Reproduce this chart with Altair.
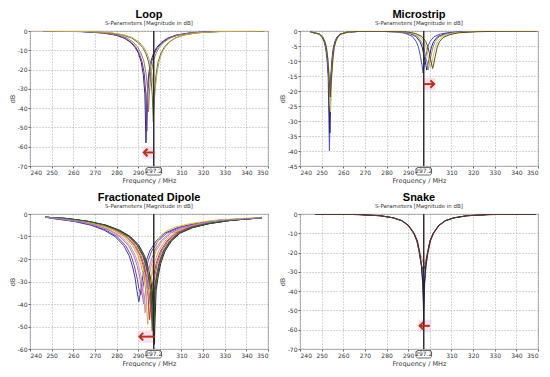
import altair as alt
import pandas as pd

W = 238
H = 135
X_TICKS = [240, 250, 260, 270, 280, 290, 300, 310, 320, 330, 340, 350]
MARKER = 297.2

# ---------------- Loop ----------------
LOOP_NAMES = ["L1", "L2", "L3", "L4", "L5"]
LOOP_COLORS = ["#2a2a7e", "#6a3a98", "#a07a58", "#56702e", "#c8a45a"]
LOOP_FREQ = [
    [246, 263.6, 273.6, 279.6, 283.6, 286.6, 288.6, 290.1, 291.4, 292.4, 293.1, 293.6, 294.1, 294.8, 295.8, 297.1, 298.6, 300.6, 303.6, 307.6, 313.6, 323.6, 348],
    [246, 264, 274, 280, 284, 287, 289, 290.5, 291.8, 292.8, 293.5, 294, 294.5, 295.2, 296.2, 297.5, 299, 301, 304, 308, 314, 324, 348],
    [246, 264.8, 274.8, 280.8, 284.8, 287.8, 289.8, 291.3, 292.6, 293.6, 294.3, 294.8, 295.3, 296, 297, 298.3, 299.8, 301.8, 304.8, 308.8, 314.8, 324.8, 348],
    [246, 267, 277, 283, 287, 290, 292, 293.5, 294.8, 295.8, 296.5, 297, 297.5, 298.2, 299.2, 300.5, 302, 304, 307, 311, 317, 327, 348],
    [246, 267.5, 277.5, 283.5, 287.5, 290.5, 292.5, 294, 295.3, 296.3, 297, 297.5, 298, 298.7, 299.7, 301, 302.5, 304.5, 307.5, 311.5, 317.5, 327.5, 348],
]
LOOP_DB = [
    [-0.05, -0.3, -1.0, -2.1, -3.7, -6.0, -8.5, -11.5, -16, -23, -33, -58, -33, -23, -16, -11.5, -8.5, -6.0, -3.7, -2.1, -1.0, -0.3, -0.05],
    [-0.05, -0.3, -1.1, -2.2, -3.8, -6.1, -8.6, -11.6, -16, -22, -32, -52, -32, -22, -16, -11.6, -8.6, -6.1, -3.8, -2.2, -1.1, -0.3, -0.05],
    [-0.05, -0.3, -1.0, -2.0, -3.6, -5.9, -8.4, -11.4, -15.5, -22, -30, -42, -30, -22, -15.5, -11.4, -8.4, -5.9, -3.6, -2.0, -1.0, -0.3, -0.05],
    [-0.05, -0.3, -1.0, -2.1, -3.7, -6.0, -8.5, -11.5, -16, -23, -33, -47, -33, -23, -16, -11.5, -8.5, -6.0, -3.7, -2.1, -1.0, -0.3, -0.05],
    [-0.05, -0.3, -0.9, -2.0, -3.5, -5.8, -8.3, -11.3, -15.5, -22, -29, -36, -29, -22, -15.5, -11.3, -8.3, -5.8, -3.5, -2.0, -0.9, -0.3, -0.05],
]
LOOP_Y = [0, -10, -20, -30, -40, -50, -60, -70]
LOOP_ARROW = [297.4, 292.6, -63]

# ---------------- Microstrip ----------------
MS_NAMES = ["M1", "M2", "M3", "M4", "M5"]
MS_COLORS = ["#4b4bd0", "#22225e", "#8a8aa8", "#d9c24a", "#5c4a1e"]
MS_FREQ = [
    [244.6, 248.6, 250.1, 251.1, 251.8, 252.4, 253.0, 253.6, 254.2, 254.8, 255.4, 256.1, 257.1, 258.6, 261.6, 266.6, 276,
     284.9, 288.9, 291.9, 293.7, 294.7, 295.7, 296.4, 296.9, 297.4, 298.1, 299.1, 300.1, 301.9, 304.9, 308.9, 316.9, 326.9, 349.5],
    [244.8, 248.8, 250.3, 251.3, 252.0, 252.6, 253.2, 253.8, 254.4, 255.0, 255.6, 256.3, 257.3, 258.8, 261.8, 266.8, 276,
     286.6, 290.6, 293.6, 295.4, 296.4, 297.4, 298.1, 298.6, 299.1, 299.8, 300.8, 301.8, 303.6, 306.6, 310.6, 318.6, 328.6, 349.5],
    [244.9, 248.9, 250.4, 251.4, 252.1, 252.7, 253.3, 253.9, 254.5, 255.1, 255.7, 256.4, 257.4, 258.9, 261.9, 266.9, 276,
     287.3, 291.3, 294.3, 296.1, 297.1, 298.1, 298.8, 299.3, 299.8, 300.5, 301.5, 302.5, 304.3, 307.3, 311.3, 319.3, 329.3, 349.5],
    [245.1, 249.1, 250.6, 251.6, 252.3, 252.9, 253.5, 254.1, 254.7, 255.3, 255.9, 256.6, 257.6, 259.1, 262.1, 267.1, 277,
     288.4, 292.4, 295.4, 297.2, 298.2, 299.2, 299.9, 300.4, 300.9, 301.6, 302.6, 303.6, 305.4, 308.4, 312.4, 320.4, 330.4, 349.5],
    [245.0, 249.0, 250.5, 251.5, 252.2, 252.8, 253.4, 254.0, 254.6, 255.2, 255.8, 256.5, 257.5, 259.0, 262.0, 267.0, 277,
     289.3, 293.3, 296.3, 298.1, 299.1, 300.1, 300.8, 301.3, 301.8, 302.5, 303.5, 304.5, 306.3, 309.3, 313.3, 321.3, 331.3, 349.5],
]
MS_DB = [
    [-0.3, -1.0, -2.0, -3.5, -5.5, -9, -15, -40, -15, -9, -5.5, -3.5, -2.0, -1.0, -0.4, -0.15, -0.1,
     -0.3, -0.8, -1.8, -3.5, -5.2, -8.5, -11.5, -14, -11.5, -8.5, -5.2, -3.5, -1.9, -1.0, -0.5, -0.2, -0.08, -0.03],
    [-0.3, -1.0, -2.0, -3.5, -5.5, -9, -15, -34, -15, -9, -5.5, -3.5, -2.0, -1.0, -0.4, -0.15, -0.1,
     -0.3, -0.8, -1.8, -3.5, -5.2, -8.5, -11, -13, -11, -8.5, -5.2, -3.5, -1.9, -1.0, -0.5, -0.2, -0.08, -0.03],
    [-0.3, -1.0, -2.0, -3.5, -5.5, -9, -15, -25, -15, -9, -5.5, -3.5, -2.0, -1.0, -0.4, -0.15, -0.1,
     -0.3, -0.8, -1.8, -3.5, -5.2, -8.5, -11, -13, -11, -8.5, -5.2, -3.5, -1.9, -1.0, -0.5, -0.2, -0.08, -0.03],
    [-0.3, -1.0, -2.0, -3.5, -5.5, -9, -15, -27, -15, -9, -5.5, -3.5, -2.0, -1.0, -0.4, -0.15, -0.1,
     -0.3, -0.8, -1.8, -3.5, -5.2, -8.3, -10.8, -12, -10.8, -8.3, -5.2, -3.5, -2.0, -1.1, -0.55, -0.22, -0.08, -0.03],
    [-0.3, -1.0, -2.0, -3.5, -5.5, -9, -15, -22, -15, -9, -5.5, -3.5, -2.0, -1.0, -0.4, -0.15, -0.1,
     -0.3, -0.8, -1.8, -3.5, -5.2, -8.4, -11, -12.5, -11, -8.4, -5.2, -3.5, -2.1, -1.2, -0.6, -0.25, -0.1, -0.03],
]
MS_Y = [0, -5, -10, -15, -20, -25, -30, -35, -40, -45]
MS_ARROW = [297.2, 302.0, -17.7]

# ---------------- Fractionated Dipole ----------------
FD_NAMES = ["D1", "D2", "D3", "D4", "D5", "D6", "D7", "D8", "D9", "D10", "D11", "D12"]
FD_COLORS = ["#3b3bb0", "#7b3fa0", "#e0909c", "#d9a060", "#c0392b", "#c04890",
             "#8b4a2b", "#6d6d2a", "#2a2a2a", "#d8c040", "#2e5e3e", "#a080c0"]
FD_FREQ = [
    [247, 250.3, 260.3, 268.3, 274.3, 279.3, 283.3, 285.8, 287.3, 288.5, 289.4, 290.3, 291.2, 292.1, 293.3, 295.3, 298.3, 302.3, 308.3, 316.3, 326.3, 347],
    [247, 251.2, 261.2, 269.2, 275.2, 280.2, 284.2, 286.7, 288.2, 289.4, 290.3, 291.2, 292.1, 293.0, 294.2, 296.2, 299.2, 303.2, 309.2, 317.2, 327.2, 347],
    [247, 253.2, 263.2, 271.2, 277.2, 282.2, 286.2, 288.7, 290.2, 291.4, 292.3, 293.2, 294.1, 295.0, 296.2, 298.2, 301.2, 305.2, 311.2, 319.2, 329.2, 347],
    [247, 254.4, 264.4, 272.4, 278.4, 283.4, 287.4, 289.9, 291.4, 292.6, 293.5, 294.4, 295.3, 296.2, 297.4, 299.4, 302.4, 306.4, 312.4, 320.4, 330.4, 347],
    [247, 255.3, 265.3, 273.3, 279.3, 284.3, 288.3, 290.8, 292.3, 293.5, 294.4, 295.3, 296.2, 297.1, 298.3, 300.3, 303.3, 307.3, 313.3, 321.3, 331.3, 347],
    [247, 255.8, 265.8, 273.8, 279.8, 284.8, 288.8, 291.3, 292.8, 294.0, 294.9, 295.8, 296.7, 297.6, 298.8, 300.8, 303.8, 307.8, 313.8, 321.8, 331.8, 347],
    [247, 256.5, 266.5, 274.5, 280.5, 285.5, 289.5, 292.0, 293.5, 294.7, 295.6, 296.5, 297.4, 298.3, 299.5, 301.5, 304.5, 308.5, 314.5, 322.5, 332.5, 347],
    [247, 257, 267, 275, 281, 286, 290, 292.5, 294, 295.2, 296.1, 297, 297.9, 298.8, 300, 302, 305, 309, 315, 323, 333, 347],
    [247, 257.4, 267.4, 275.4, 281.4, 286.4, 290.4, 292.9, 294.4, 295.6, 296.5, 297.4, 298.3, 299.2, 300.4, 302.4, 305.4, 309.4, 315.4, 323.4, 333.4, 347],
    [247, 255, 265, 273, 279, 284, 288, 290.5, 292, 293.2, 294.1, 295, 295.9, 296.8, 298, 300, 303, 307, 313, 321, 331, 347],
    [247, 256.8, 266.8, 274.8, 280.8, 285.8, 289.8, 292.3, 293.8, 295.0, 295.9, 296.8, 297.7, 298.6, 299.8, 301.8, 304.8, 308.8, 314.8, 322.8, 332.8, 347],
    [247, 252.5, 262.5, 270.5, 276.5, 281.5, 285.5, 288, 289.5, 290.7, 291.6, 292.5, 293.4, 294.3, 295.5, 297.5, 300.5, 304.5, 310.5, 318.5, 328.5, 347],
]
FD_DB = [
    [-1.4, -2.0, -3.3, -5.0, -7.2, -10, -14, -18.5, -23, -28, -34, -39, -34, -28, -22, -16.5, -12, -8.5, -6, -4.2, -2.8, -1.7],
    [-1.4, -2.0, -3.3, -5.0, -7.2, -10, -14, -18.5, -23, -28, -33, -36, -33, -28, -22, -16.5, -12, -8.5, -6, -4.2, -2.8, -1.7],
    [-1.4, -2.0, -3.3, -5.0, -7.2, -10, -14, -18.5, -23, -28, -34, -44, -34, -28, -22, -16.5, -12, -8.5, -6, -4.2, -2.8, -1.7],
    [-1.4, -2.0, -3.3, -5.0, -7.2, -10, -14, -18.5, -23, -28, -34, -49, -34, -28, -22, -16.5, -12, -8.5, -6, -4.2, -2.8, -1.7],
    [-1.4, -2.0, -3.3, -5.0, -7.2, -10, -14, -18.5, -23, -28, -34, -47, -34, -28, -22, -16.5, -12, -8.5, -6, -4.2, -2.8, -1.7],
    [-1.4, -2.0, -3.3, -5.0, -7.2, -10, -14, -18.5, -23, -28, -34, -42, -34, -28, -22, -16.5, -12, -8.5, -6, -4.2, -2.8, -1.7],
    [-1.4, -2.0, -3.3, -5.0, -7.2, -10, -14, -18.5, -23, -28, -34, -52, -34, -28, -22, -16.5, -12, -8.5, -6, -4.2, -2.8, -1.7],
    [-1.4, -2.0, -3.3, -5.0, -7.2, -10, -14, -18.5, -23, -28, -34, -55, -34, -28, -22, -16.5, -12, -8.5, -6, -4.2, -2.8, -1.7],
    [-1.4, -2.0, -3.3, -5.0, -7.2, -10, -14, -18.5, -23, -28, -34, -58, -34, -28, -22, -16.5, -12, -8.5, -6, -4.2, -2.8, -1.7],
    [-1.4, -2.0, -3.3, -5.0, -7.2, -10, -14, -18.5, -23, -28, -33, -35, -30, -22, -15, -10, -7.5, -5.8, -4.5, -3.3, -2.4, -1.5],
    [-1.4, -2.0, -3.3, -5.0, -7.2, -10, -14, -18.5, -23, -28, -34, -50, -34, -28, -22, -16.5, -12, -8.5, -6, -4.2, -2.8, -1.7],
    [-1.4, -2.0, -3.3, -5.0, -7.2, -10, -14, -18.5, -23, -28, -34, -40, -34, -28, -22, -16.5, -12, -8.5, -6, -4.2, -2.8, -1.7],
]
FD_Y = [0, -10, -20, -30, -40, -50, -60]
FD_ARROW = [297.6, 290.6, -54.5]

# ---------------- Snake ----------------
SN_NAMES = ["S5", "S3", "S1", "S2", "S4"]
SN_COLORS = ["#d88aa0", "#d6b83a", "#4b2ca0", "#1f1f5a", "#5c3d1e"]
SN_FREQ = [
    [247, 267.3, 277.3, 283.3, 287.3, 290.3, 292.8, 294.3, 295.4, 296.3, 296.9, 297.3, 297.7, 298.3, 299.2, 300.3, 301.8, 304.3, 307.3, 311.3, 317.3, 327.3, 349],
    [247, 267.3, 277.3, 283.3, 287.3, 290.3, 292.8, 294.3, 295.4, 296.3, 296.9, 297.3, 297.7, 298.3, 299.2, 300.3, 301.8, 304.3, 307.3, 311.3, 317.3, 327.3, 349],
    [247, 267.2, 277.2, 283.2, 287.2, 290.2, 292.7, 294.2, 295.3, 296.2, 296.8, 297.2, 297.6, 298.2, 299.1, 300.2, 301.7, 304.2, 307.2, 311.2, 317.2, 327.2, 349],
    [247, 267.1, 277.1, 283.1, 287.1, 290.1, 292.6, 294.1, 295.2, 296.1, 296.7, 297.1, 297.5, 298.1, 299.0, 300.1, 301.6, 304.1, 307.1, 311.1, 317.1, 327.1, 349],
    [247, 267, 277, 283, 287, 290, 292.5, 294, 295.1, 296, 296.6, 297, 297.4, 298, 298.9, 300, 301.5, 304, 307, 311, 317, 327, 349],
]
SN_DB = [
    [-0.05, -0.3, -0.9, -2.0, -3.5, -6, -10, -14, -20, -23, -25, -26, -25, -23, -20, -14, -10, -6, -3.5, -2.0, -0.9, -0.3, -0.05],
    [-0.05, -0.3, -0.9, -2.0, -3.5, -6, -10, -14, -20, -27, -35, -40, -35, -27, -20, -14, -10, -6, -3.5, -2.0, -0.9, -0.3, -0.05],
    [-0.05, -0.3, -0.9, -2.0, -3.5, -6, -10, -14, -20, -27, -36, -58, -36, -27, -20, -14, -10, -6, -3.5, -2.0, -0.9, -0.3, -0.05],
    [-0.05, -0.3, -0.9, -2.0, -3.5, -6, -10, -14, -20, -27, -36, -46, -36, -27, -20, -14, -10, -6, -3.5, -2.0, -0.9, -0.3, -0.05],
    [-0.05, -0.3, -0.9, -2.0, -3.5, -6, -10, -14, -20, -26, -28, -30, -28, -26, -20, -14, -10, -6, -3.5, -2.0, -0.9, -0.3, -0.05],
]
SN_Y = [0, -10, -20, -30, -40, -50, -60, -70]
SN_ARROW = [300.0, 295.3, -58]


def lines_df(names, colors, freqs, dbs):
    rows = []
    for k, (name, col, fs, ds) in enumerate(zip(names, colors, freqs, dbs)):
        for f, d in zip(fs, ds):
            rows.append({"s": name, "c": col, "k": k, "f": f, "db": d})
    return pd.DataFrame(rows)


def panel(title, names, colors, freqs, dbs, y_ticks, arrow):
    y_min = min(y_ticks)
    xs = alt.Scale(domain=[240, 350], nice=False, zero=False)
    ys = alt.Scale(domain=[y_min, 0], nice=False, zero=False)
    x_axis = alt.Axis(values=X_TICKS, title="Frequency / MHz",
                      labelExpr="datum.value == 300 ? '' : replace(datum.label, '\u2212', '-')")
    y_axis = alt.Axis(values=y_ticks, title="dB",
                      labelExpr="replace(datum.label, '\u2212', '-')")
    X = alt.X("f:Q", scale=xs, axis=x_axis)
    Y = alt.Y("db:Q", scale=ys, axis=y_axis)

    df = lines_df(names, colors, freqs, dbs)
    lines = alt.Chart(df).mark_line(strokeWidth=1, clip=True).encode(
        x=X, y=Y,
        color=alt.Color("c:N", scale=None, legend=None),
        detail="s:N",
    )

    marker = alt.Chart(pd.DataFrame({"f": [MARKER]})).mark_rule(
        color="#222222", strokeWidth=1.4).encode(x=X)

    a_start, a_tip, a_level = arrow
    span = (y_min * -1) / 22.0
    halo_df = pd.DataFrame({"f": [min(a_start, a_tip) - 0.6], "f2": [max(a_start, a_tip) + 0.6],
                            "db": [a_level + span], "db2": [a_level - span]})
    halo = alt.Chart(halo_df).mark_rect(color="#f6c5dc", opacity=0.55).encode(
        x=X, x2="f2:Q", y=Y, y2="db2:Q")

    shaft = alt.Chart(pd.DataFrame({"f": [a_start], "f2": [a_tip], "db": [a_level]})).mark_rule(
        color="#b0341c", strokeWidth=2).encode(x=X, x2="f2:Q", y=Y)
    head_shape = "M1,-1L0,0L1,1" if a_tip < a_start else "M-1,-1L0,0L-1,1"
    head = alt.Chart(pd.DataFrame({"f": [a_tip], "db": [a_level]})).mark_point(
        shape=head_shape, size=55, filled=False, color="#b0341c", strokeWidth=2, opacity=1).encode(x=X, y=Y)

    box = alt.Chart(pd.DataFrame({"f": [293.6], "f2": [300.8]})).mark_rect(
        fill="white", stroke="#444444", strokeWidth=0.8, cornerRadius=2).encode(
        x=X, x2="f2:Q", y=alt.value(H + 1.5), y2=alt.value(H + 9))
    box_text = alt.Chart(pd.DataFrame({"f": [MARKER], "t": ["297.2"]})).mark_text(
        fontSize=6, font="DejaVu Sans", color="#333333", baseline="middle").encode(
        x=X, y=alt.value(H + 5.4), text="t:N")

    return alt.layer(halo, lines, marker, shaft, head, box, box_text).properties(
        width=W, height=H,
        title=alt.TitleParams(
            text=title, subtitle="S-Parameters [Magnitude in dB]",
            fontSize=11, font="Liberation Sans", fontWeight="bold", color="#000000",
            subtitleFontSize=5.5, subtitleFont="DejaVu Sans", subtitleColor="#333333",
            anchor="middle", offset=2, subtitlePadding=1,
        ),
    )


p1 = panel("Loop", LOOP_NAMES, LOOP_COLORS, LOOP_FREQ, LOOP_DB, LOOP_Y, LOOP_ARROW)
p2 = panel("Microstrip", MS_NAMES, MS_COLORS, MS_FREQ, MS_DB, MS_Y, MS_ARROW)
p3 = panel("Fractionated Dipole", FD_NAMES, FD_COLORS, FD_FREQ, FD_DB, FD_Y, FD_ARROW)
p4 = panel("Snake", SN_NAMES, SN_COLORS, SN_FREQ, SN_DB, SN_Y, SN_ARROW)

chart = alt.concat(
    p1, p2, p3, p4, columns=2,
    spacing={"row": 48, "column": 32}, bounds="flush", padding=0,
).configure_view(
    stroke="#9a9a9a", strokeWidth=0.8
).configure_axis(
    grid=True, gridColor="#8a8a8a", gridDash=[1, 2], gridWidth=0.7,
    domain=False, ticks=True, tickSize=2, tickColor="#666666",
    labelFont="DejaVu Sans", labelFontSize=6, labelColor="#333333", labelPadding=1,
    titleFont="DejaVu Sans", titleFontSize=6.5, titleFontWeight="normal",
    titleColor="#333333", titlePadding=2,
)

chart.save("out.html", embed_options={"renderer": "svg", "actions": False})
